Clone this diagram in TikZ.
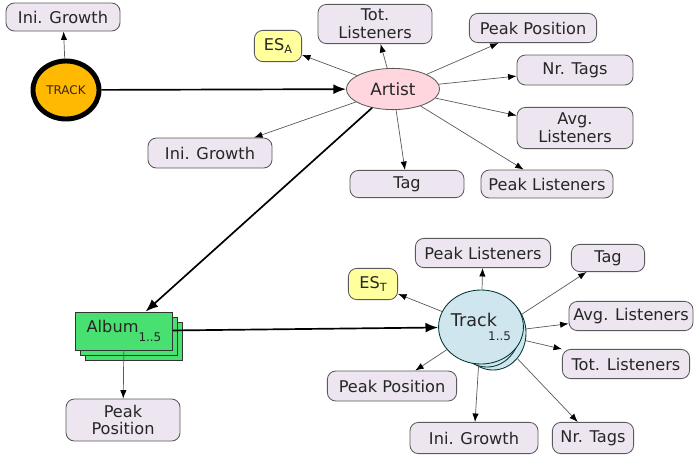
\documentclass[tikz,border=0pt]{standalone}
\usepackage{fontspec}
\setmainfont{DejaVu Sans}
\usepackage{xcolor}
\usetikzlibrary{shapes.geometric, arrows.meta, positioning}

\definecolor{attrfill}{HTML}{EDE5EF}
\definecolor{attrline}{HTML}{5A5A5A}
\definecolor{txt}{HTML}{262626}
\definecolor{esfill}{HTML}{FFFF9E}
\definecolor{artistfill}{HTML}{FFD6DE}
\definecolor{trackfill}{HTML}{FFB900}
\definecolor{albumfill}{HTML}{48E070}
\definecolor{tracksfill}{HTML}{CFE6EF}

\begin{document}
\begin{tikzpicture}[
    x=0.025cm, y=-0.025cm,
    font=\fontsize{11.5}{12.5}\selectfont,
    attr/.style={rectangle, rounded corners=6pt, draw=attrline, line width=0.6pt, fill=attrfill, text=txt, align=center, inner sep=0pt},
    esbox/.style={attr, fill=esfill},
    ent/.style={ellipse, draw=attrline, line width=0.6pt, text=txt, inner sep=0pt},
    albbox/.style={rectangle, draw=black!80, line width=0.6pt, fill=albumfill, text=txt, inner sep=0pt, minimum width=2.43cm, minimum height=0.95cm},
    trkcirc/.style={ellipse, draw=black!60!teal, line width=0.6pt, fill=tracksfill, text=txt, inner sep=0pt, minimum width=1.65cm, minimum height=1.85cm},
    arrow/.style={-{Latex[length=6pt,width=4.5pt,color=black]}, line width=0.5pt, draw=black!65},
    mainarrow/.style={-{Latex[length=9pt,width=7pt]}, line width=1.2pt, black}
]
\useasboundingbox (0,0) rectangle (696,456);

% seed track
\node[ent, draw=black, line width=3.5pt, fill=trackfill, minimum width=1.65cm, minimum height=1.45cm, font=\fontsize{8.5}{10}\selectfont, text=black!70!brown] (seed) at (66,90) {TRACK};
\node[attr, minimum width=2.85cm, minimum height=0.7cm] (seedini) at (63,17) {Ini. Growth};

% artist
\node[ent, fill=artistfill, minimum width=2.33cm, minimum height=1.03cm, font=\fontsize{12}{14}\selectfont] (artist) at (393,89) {Artist};
\node[esbox, minimum width=1.18cm, minimum height=0.78cm] (esa) at (278,46) {ES\raisebox{-0.4ex}{\fontsize{8}{8}\selectfont A}};
\node[attr, minimum width=2.85cm, minimum height=0.98cm] (atot) at (375,24) {Tot.\\Listeners};
\node[attr, minimum width=3.18cm, minimum height=0.73cm] (apeakpos) at (533,28) {Peak Position};
\node[attr, minimum width=2.9cm, minimum height=0.75cm] (anrtags) at (575,70) {Nr. Tags};
\node[attr, minimum width=2.9cm, minimum height=1.03cm] (aavg) at (575,128) {Avg.\\Listeners};
\node[attr, minimum width=3.3cm, minimum height=0.7cm] (apeaklis) at (547,184) {Peak Listeners};
\node[attr, minimum width=2.85cm, minimum height=0.68cm] (atag) at (407,184) {Tag};
\node[attr, minimum width=3.1cm, minimum height=0.75cm] (aini) at (210,153) {Ini. Growth};

% album stack
\node[albbox] (album3) at (134,341) {};
\node[albbox] (album2) at (129,336) {};
\node[albbox] (album) at (124,331) {Album\raisebox{-1.1ex}{\fontsize{8.5}{9}\selectfont 1..5}};
\node[attr, minimum width=2.85cm, minimum height=1.05cm] (alpeakpos) at (123,420) {Peak\\Position};

% track stack
\node[trkcirc] (track3) at (493,333) {};
\node[trkcirc] (track2) at (487,330) {};
\node[trkcirc, font=\fontsize{12.5}{14}\selectfont] (track) at (481,327) {Track\raisebox{-1.5ex}{\kern-0.5em\fontsize{8.5}{9}\selectfont 1..5}};
\node[esbox, minimum width=1.23cm, minimum height=0.78cm] (est) at (373,284) {ES\raisebox{-0.4ex}{\fontsize{8}{8}\selectfont T}};
\node[attr, minimum width=3.38cm, minimum height=0.73cm] (tpeaklis) at (483,253) {Peak Listeners};
\node[attr, minimum width=1.83cm, minimum height=0.68cm] (ttag) at (608,258) {Tag};
\node[attr, minimum width=3.1cm, minimum height=0.73cm] (tavg) at (631,316) {Avg. Listeners};
\node[attr, minimum width=3.18cm, minimum height=0.73cm] (ttot) at (626,364) {Tot. Listeners};
\node[attr, minimum width=3.23cm, minimum height=0.75cm] (tpeakpos) at (392,386) {Peak Position};
\node[attr, minimum width=3.2cm, minimum height=0.78cm] (tini) at (474,438) {Ini. Growth};
\node[attr, minimum width=2.03cm, minimum height=0.78cm] (tnrtags) at (593,438) {Nr. Tags};

% main flow
\draw[mainarrow] (seed) -- (artist);
\draw[mainarrow] (artist) -- (album);
\draw[mainarrow] (album) -- (track);

% attributes
\draw[arrow] (seed) -- (seedini);
\draw[arrow] (artist) -- (esa);
\draw[arrow] (artist) -- (atot);
\draw[arrow] (artist) -- (apeakpos);
\draw[arrow] (artist) -- (anrtags);
\draw[arrow] (artist) -- (aavg);
\draw[arrow] (artist) -- (apeaklis);
\draw[arrow] (artist) -- (atag);
\draw[arrow] (artist) -- (aini);
\draw[arrow] (album) -- (alpeakpos);
\draw[arrow] (track) -- (est);
\draw[arrow] (track) -- (tpeaklis);
\draw[arrow] (track3) -- (ttag);
\draw[arrow] (track3) -- (tavg);
\draw[arrow] (track3) -- (ttot);
\draw[arrow] (track3) -- (tnrtags);
\draw[arrow] (track) -- (tpeakpos);
\draw[arrow] (track) -- (tini);

\end{tikzpicture}
\end{document}
